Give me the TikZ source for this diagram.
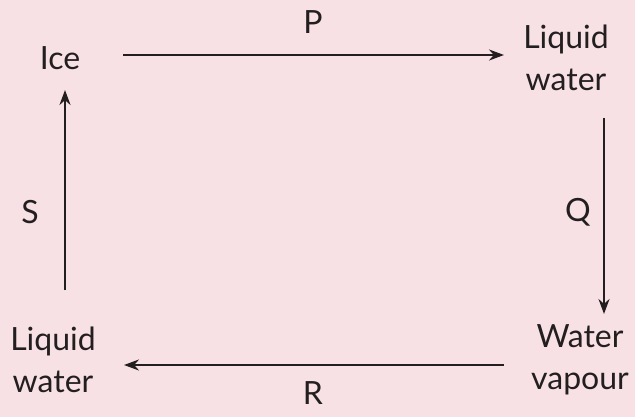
\documentclass[tikz,border=0pt]{standalone}
\usepackage{fontspec}
\setmainfont{Lato}
\usetikzlibrary{arrows.meta}
\definecolor{bg}{HTML}{F8E1E4}
\definecolor{ink}{HTML}{231F20}
\begin{document}
\begin{tikzpicture}[x=1pt,y=-1pt,
  lbl/.style={text=ink,font=\fontsize{32}{42}\selectfont,align=center,inner sep=0pt},
  conn/.style={draw=ink,line width=2.2pt,-{Stealth[length=15pt,width=11pt]}}]
\fill[bg] (0,0) rectangle (635,417);
\useasboundingbox (0,0) rectangle (635,417);
\node[lbl] (ice) at (60,58) {Ice};
\node[lbl] (lwtr) at (566,58) {Liquid\\water};
\node[lbl] (wv) at (580,360) {Water\\vapour};
\node[lbl] (lwbl) at (53,360) {Liquid\\water};
\node[lbl] (P) at (313,22) {P};
\node[lbl] (Q) at (578,212) {Q};
\node[lbl] (R) at (313,393) {R};
\node[lbl] (S) at (30,212) {S};
\coordinate (p1) at (123,55); \coordinate (p2) at (504,55);
\coordinate (q1) at (604,118); \coordinate (q2) at (604,314);
\coordinate (r1) at (504,365); \coordinate (r2) at (124,365);
\coordinate (s1) at (65,290); \coordinate (s2) at (65,90);
\draw[conn] (p1) -- (p2);
\draw[conn] (q1) -- (q2);
\draw[conn] (r1) -- (r2);
\draw[conn] (s1) -- (s2);
\end{tikzpicture}
\end{document}
